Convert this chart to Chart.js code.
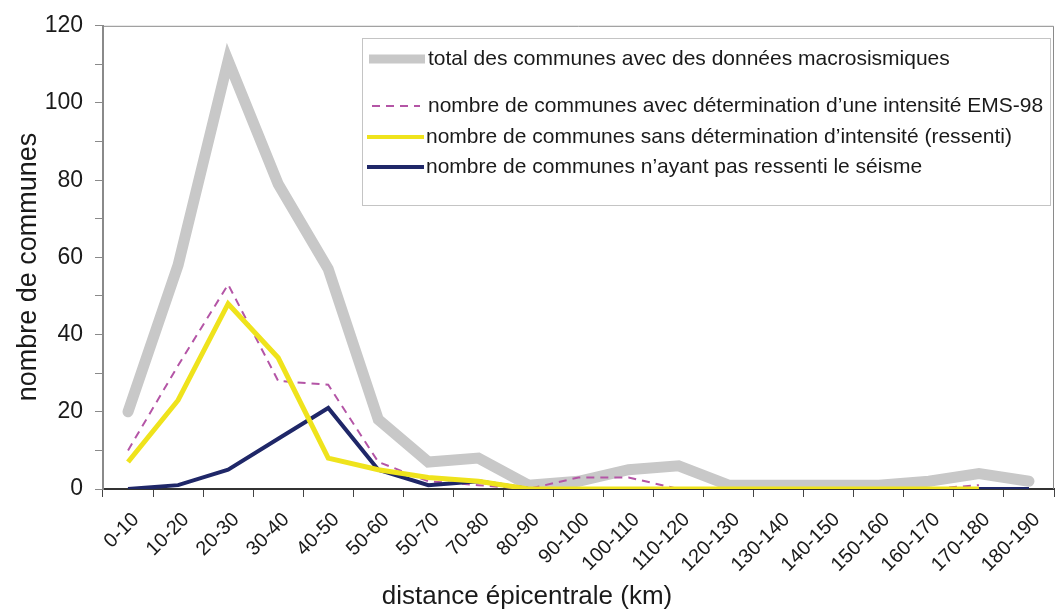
<!DOCTYPE html>
<html>
<head>
<meta charset="utf-8">
<script src="https://cdn.jsdelivr.net/npm/chart.js@4.4.1/dist/chart.umd.min.js"></script>
<style>
  html, body { margin: 0; padding: 0; background: #fff; }
  canvas { display: block; }
</style>
</head>
<body>
<canvas id="communesChart" width="1057" height="613"></canvas>
<script>
// distance classes (km)
const categories = ['0-10', '10-20', '20-30', '30-40', '40-50', '50-60', '50-70', '70-80', '80-90', '90-100',
  '100-110', '110-120', '120-130', '130-140', '140-150', '150-160', '160-170', '170-180', '180-190'];

// values
const totalCommunes = [20, 58, 111, 79, 57, 18, 7, 8, 1, 2, 5, 6, 1, 1, 1, 1, 2, 4, 2];
const avecIntensite = [10, 32, 53, 28, 27, 7, 2, 1, 0, 3, 3, 0, 0, 0, 0, 0, 0, 1, null];
const sansIntensite = [7, 23, 48, 34, 8, 5, 3, 2, 0, 0, 0, 0, 0, 0, 0, 0, 0, 0, null];
const nonRessenti = [0, 1, 5, 13, 21, 5, 1, 2, 0, 0, 0, 0, 0, 0, 0, 0, 0, 0, 0];

const seriesLabels = [
  'total des communes avec des données macrosismiques',
  'nombre de communes avec détermination d’une intensité EMS-98',
  'nombre de communes sans détermination d’intensité (ressenti)',
  'nombre de communes n’ayant pas ressenti le séisme'
];

const yMin = 0, yMax = 120, yMajor = 20;

const FONT = "'Liberation Sans', Arial, sans-serif";

// legend box inside the plot + axis titles
const annotations = {
  id: 'annotations',
  beforeDatasetsDraw(chart) {
    const { ctx, chartArea: a } = chart;
    ctx.save();
    ctx.strokeStyle = '#8a8a8a';
    ctx.lineWidth = 1;
    ctx.beginPath();
    ctx.moveTo(a.left, a.top + 0.5);
    ctx.lineTo(a.right - 0.5, a.top + 0.5);
    ctx.lineTo(a.right - 0.5, a.bottom);
    ctx.stroke();
    ctx.restore();
  },
  afterDraw(chart) {
    const { ctx } = chart;
    const ds = chart.data.datasets;
    ctx.save();
    // legend box
    ctx.fillStyle = '#fff';
    ctx.fillRect(362, 38, 688, 167);
    ctx.strokeStyle = '#c4c4c4';
    ctx.lineWidth = 1;
    ctx.strokeRect(362.5, 38.5, 688, 167);

    const rows = [
      { y: 59, x0: 369, x1: 425, w: 9, tx: 428 },
      { y: 106, x0: 372, x1: 420, w: 2, tx: 428 },
      { y: 137, x0: 367, x1: 424, w: 4, tx: 426 },
      { y: 167, x0: 367, x1: 424, w: 4, tx: 426 }
    ];
    rows.forEach((r, i) => {
      ctx.strokeStyle = ds[i].borderColor;
      ctx.lineWidth = r.w;
      ctx.setLineDash(ds[i].borderDash || []);
      ctx.beginPath();
      ctx.moveTo(r.x0, r.y);
      ctx.lineTo(r.x1, r.y);
      ctx.stroke();
      ctx.setLineDash([]);
      ctx.fillStyle = '#1a1a1a';
      ctx.font = '21px ' + FONT;
      ctx.textBaseline = 'middle';
      ctx.textAlign = 'left';
      ctx.fillText(ds[i].label, r.tx, r.y);
    });

    // axis titles
    ctx.fillStyle = '#1a1a1a';
    ctx.font = '26px ' + FONT;
    ctx.textAlign = 'center';
    ctx.textBaseline = 'middle';
    ctx.fillText('distance épicentrale (km)', 527, 597);
    ctx.translate(29, 267);
    ctx.rotate(-Math.PI / 2);
    ctx.font = '27px ' + FONT;
    ctx.fillText('nombre de communes', 0, 0);
    ctx.restore();
  }
};

const ctx = document.getElementById('communesChart').getContext('2d');
const chart = new Chart(ctx, {
  type: 'line',
  data: {
    labels: categories,
    datasets: [
      {
        label: seriesLabels[0],
        data: totalCommunes,
        borderColor: '#c8c8c8',
        borderWidth: 11,
        borderCapStyle: 'round',
        order: 4
      },
      {
        label: seriesLabels[1],
        data: avecIntensite,
        borderColor: '#b455a6',
        borderWidth: 2,
        borderDash: [8, 6],
        order: 3
      },
      {
        label: seriesLabels[2],
        data: sansIntensite,
        borderColor: '#efe31c',
        borderWidth: 5,
        order: 1
      },
      {
        label: seriesLabels[3],
        data: nonRessenti,
        borderColor: '#1f2768',
        borderWidth: 4,
        order: 2
      }
    ]
  },
  options: {
    responsive: false,
    animation: false,
    devicePixelRatio: 1,
    layout: { padding: { top: 22, right: 2, left: 0, bottom: 0 } },
    elements: {
      point: { radius: 0, hoverRadius: 0 },
      line: { tension: 0, fill: false }
    },
    plugins: {
      legend: { display: false },
      tooltip: { enabled: false }
    },
    scales: {
      x: {
        type: 'category',
        offset: true,
        afterFit: (scale) => { scale.height = 124; },
        grid: {
          offset: true,
          drawOnChartArea: false,
          drawTicks: true,
          tickLength: 8,
          color: '#444'
        },
        border: { color: '#333', width: 2 },
        ticks: {
          autoSkip: false,
          minRotation: 45,
          maxRotation: 45,
          padding: 11,
          labelOffset: 8,
          color: '#1a1a1a',
          font: { family: FONT, size: 20 }
        }
      },
      y: {
        min: yMin,
        max: yMax,
        afterFit: (scale) => { scale.width = 103; },
        grid: {
          drawOnChartArea: false,
          drawTicks: true,
          tickLength: 8,
          color: '#8a8a8a'
        },
        border: { color: '#8a8a8a', width: 2 },
        ticks: {
          stepSize: 10,
          padding: 12,
          color: '#1a1a1a',
          font: { family: FONT, size: 23 },
          callback: (v) => (v % yMajor === 0 ? v : '')
        }
      }
    }
  },
  plugins: [annotations]
});
</script>
</body>
</html>
